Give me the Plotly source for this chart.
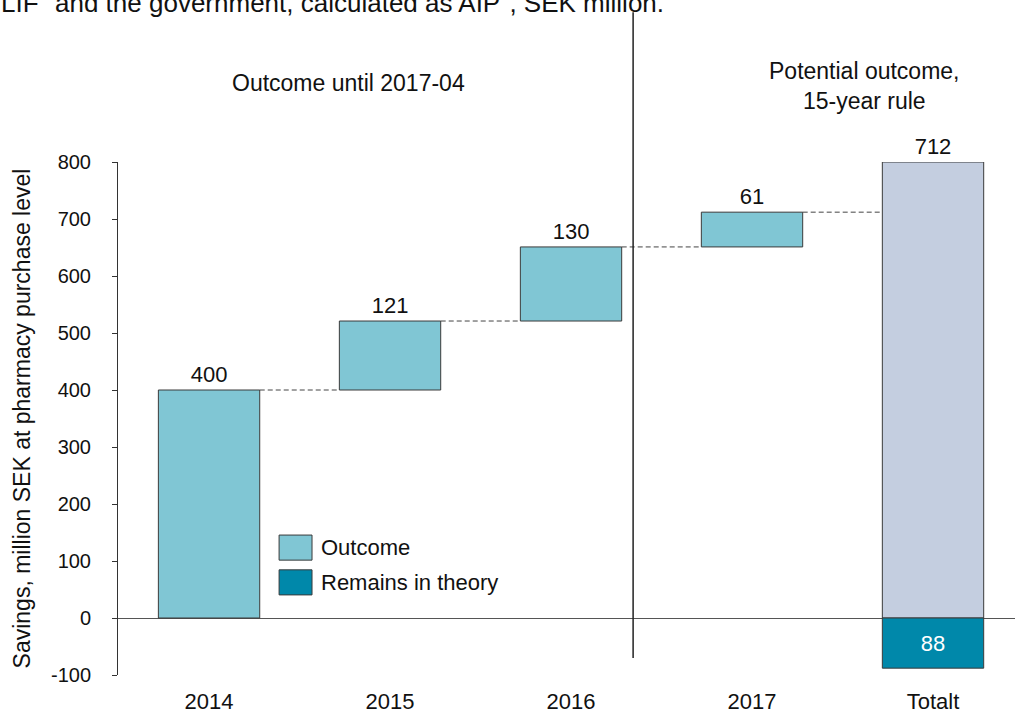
import plotly.graph_objects as go

categories = ["2014", "2015", "2016", "2017", "Totalt"]
outcome = [400, 121, 130, 61]
total_label = 712
remains = 88
y_ticks = [-100, 0, 100, 200, 300, 400, 500, 600, 700, 800]
y_ticktext = ["-100", "0", "100", "200", "300", "400", "500", "600", "700", "800"]

FONT = "Liberation Sans, Arial, sans-serif"
C_OUT = "#80c6d4"
C_TOT = "#c4cee0"
C_REM = "#0088aa"
EDGE = "#3a3a3a"
TXT = "#111"

bases = []
s = 0
for v in outcome:
    bases.append(s)
    s += v
cum = [b + v for b, v in zip(bases, outcome)]

W = 0.56
xs = list(range(len(categories)))

fig = go.Figure()

fig.add_trace(go.Bar(
    x=xs[:4], y=outcome, base=bases, width=W,
    marker=dict(color=C_OUT, line=dict(color=EDGE, width=1)),
    text=[str(v) for v in outcome], textposition="outside",
    textfont=dict(family=FONT, size=22, color=TXT),
    cliponaxis=False, showlegend=False, hoverinfo="skip"))

fig.add_trace(go.Bar(
    x=[xs[4]], y=[total_label + remains], base=[0], width=W,
    marker=dict(color=C_TOT, line=dict(color=EDGE, width=1)),
    text=[str(total_label)], textposition="outside",
    textfont=dict(family=FONT, size=22, color=TXT),
    cliponaxis=False, showlegend=False, hoverinfo="skip"))

fig.add_trace(go.Bar(
    x=[xs[4]], y=[-remains], base=[0], width=W,
    marker=dict(color=C_REM, line=dict(color=EDGE, width=1)),
    text=[str(remains)], textposition="inside", insidetextanchor="middle",
    textfont=dict(family=FONT, size=22, color="white"),
    cliponaxis=False, showlegend=False, hoverinfo="skip"))

# connectors
for i in range(4):
    fig.add_trace(go.Scatter(
        x=[xs[i] + W / 2, xs[i + 1] - W / 2], y=[cum[i], cum[i]],
        mode="lines", line=dict(color="#444", width=1, dash="5px,3px"),
        showlegend=False, hoverinfo="skip", cliponaxis=False))

xr = [-0.503, 4.453]
fig.update_layout(
    width=1015, height=713,
    margin=dict(l=118, r=0, t=162, b=38),
    paper_bgcolor="white", plot_bgcolor="white",
    barmode="overlay",
    font=dict(family=FONT, size=21, color=TXT),
    xaxis=dict(range=xr, tickvals=xs, ticktext=categories, showgrid=False,
               zeroline=False, showline=False, ticks="",
               tickfont=dict(family=FONT, size=22, color=TXT),
               ticklabelstandoff=11),
    yaxis=dict(range=[-100, 800], tickvals=y_ticks, ticktext=y_ticktext,
               showgrid=False,
               zeroline=True, zerolinecolor="#555", zerolinewidth=1,
               showline=True, linecolor="#333", linewidth=1,
               ticks="outside", ticklen=5, tickcolor="#333",
               tickfont=dict(family=FONT, size=20, color=TXT),
               ticklabelstandoff=17,
               title=dict(text="Savings, million SEK at pharmacy purchase level",
                          font=dict(family=FONT, size=23, color=TXT),
                          standoff=13)),
    showlegend=False,
)

# divider line
fig.add_shape(type="line", xref="x", yref="paper", x0=2.343, x1=2.343,
              y0=0.033, y1=1.292, line=dict(color="#222", width=1.5))

# legend (manual)
leg = [("Outcome", C_OUT, 123.5), ("Remains in theory", C_REM, 62.5)]
for name, col, yc in leg:
    fig.add_shape(type="rect", xref="x", yref="y", x0=0.387, x1=0.569,
                  y0=yc - 22, y1=yc + 22, fillcolor=col,
                  line=dict(color=EDGE, width=1))
    fig.add_annotation(xref="x", yref="y", x=0.61, y=yc, text=name,
                       showarrow=False, xanchor="left", yanchor="middle",
                       font=dict(family=FONT, size=22, color=TXT))

fig.add_annotation(xref="x", yref="paper", x=0.768, y=1.154,
                   xanchor="center", yanchor="middle",
                   text="Outcome until 2017-04", showarrow=False,
                   font=dict(family=FONT, size=23, color=TXT))
fig.add_annotation(xref="x", yref="paper", x=3.619, y=1.148,
                   xanchor="center", yanchor="middle",
                   text="Potential outcome,<br>15-year rule", showarrow=False,
                   font=dict(family=FONT, size=23, color=TXT))
fig.add_annotation(xref="paper", yref="paper", x=-0.133, y=1.277,
                   xanchor="left", yanchor="bottom",
                   text="LIF\" and the government, calculated as AIP\", SEK million.",
                   showarrow=False,
                   font=dict(family=FONT, size=26, color=TXT))

fig.write_html("out.html")
